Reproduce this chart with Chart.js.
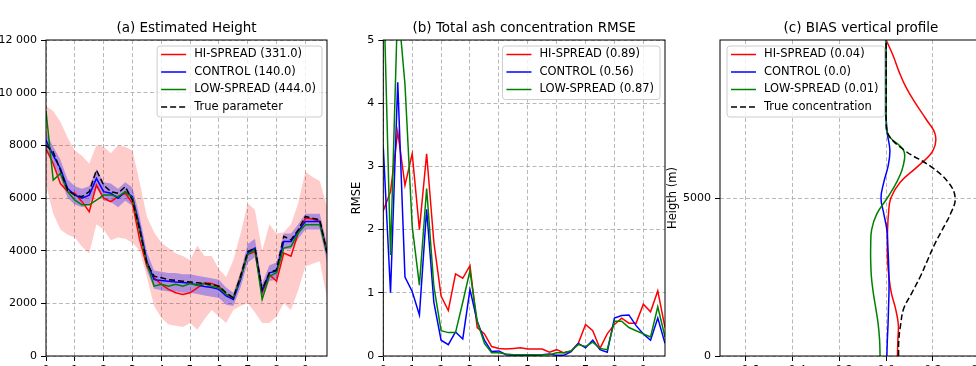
<html>
<head>
<style>
  html, body { margin: 0; padding: 0; width: 976px; height: 366px; overflow: hidden; background: #fff; }
  canvas { position: absolute; top: 0; }
</style>
</head>
<body>
<canvas id="height_chart" width="340" height="380" style="left: 0px;"></canvas>
<canvas id="rmse_chart" width="340" height="380" style="left: 335px;"></canvas>
<canvas id="bias_chart" width="346" height="380" style="left: 666px;"></canvas>
<script src="https://cdn.jsdelivr.net/npm/chart.js"></script>

<script>
    // time axis shared by panels (a) and (b)
    const hours = [0, 0.25, 0.5, 0.75, 1, 1.25, 1.5, 1.75, 2, 2.25, 2.5, 2.75, 3, 3.25, 3.5, 3.75,
        4, 4.25, 4.5, 4.75, 5, 5.25, 5.5, 5.75, 6, 6.25, 6.5, 6.75, 7, 7.25, 7.5, 7.75,
        8, 8.25, 8.5, 8.75, 9, 9.25, 9.5, 9.75];
    const hourTicks = [0, 1, 2, 3, 4, 5, 6, 7, 8, 9];

    // (a) estimated height
    const trueHeight = [8000, 7750, 7060, 6300, 6110, 6050, 6240, 7060, 6490, 6240, 6180, 6430, 5920, 4790, 3530, 3030,
        2970, 2900, 2870, 2840, 2810, 2780, 2750, 2720, 2650, 2400, 2210, 3030, 3970, 4100, 2530, 3160,
        3280, 4540, 4410, 4790, 5300, 5230, 5170, 3910];
    const ctrlHeight = [8190, 7620, 7120, 6360, 6110, 5990, 6110, 6740, 6240, 6180, 5990, 6240, 6050, 4920, 3600, 2900,
        2870, 2840, 2810, 2790, 2760, 2700, 2640, 2600, 2530, 2280, 2150, 2900, 3910, 4100, 2470, 3160,
        3220, 4350, 4350, 4730, 5110, 5110, 5110, 3910];
    const hiHeight = [7870, 7300, 6550, 6240, 6180, 5860, 5480, 6490, 5990, 5860, 6050, 6180, 5800, 4410, 3400, 2970,
        2720, 2530, 2400, 2340, 2400, 2590, 2780, 2750, 2650, 2340, 2150, 3030, 3850, 3970, 2400, 3090,
        2840, 3910, 3790, 4670, 5230, 5200, 5110, 3970];
    const lowHeight = [9300, 6680, 6930, 6240, 5920, 5740, 5740, 5920, 6110, 6110, 6050, 6240, 5990, 4790, 3530, 2650,
        2720, 2650, 2720, 2650, 2750, 2680, 2750, 2650, 2590, 2340, 2210, 2970, 3850, 4040, 2150, 3030,
        3160, 4100, 4160, 4670, 4980, 4980, 4980, 3910];
    const hiSpreadTop = [9500, 9300, 8900, 8300, 7800, 7600, 7300, 8000, 7950, 7700, 8000, 7950, 7800, 6600, 5300, 4700,
        4300, 4100, 3900, 3800, 3650, 4200, 3800, 3800, 3300, 3000, 3650, 4650, 5800, 5550, 4000, 5000,
        4650, 4700, 5000, 5800, 7000, 6800, 6650, 5650];
    const hiSpreadBottom = [6500, 5400, 4800, 4600, 4500, 4150, 3900, 5000, 4800, 4400, 4500, 4450, 4300, 4000, 3000, 1900,
        1450, 1200, 1150, 1100, 1250, 1000, 1400, 1750, 1500, 1250, 1750, 1900, 2000, 1650, 1250, 1250,
        1500, 2000, 1750, 2500, 3400, 3500, 3600, 2200];
    const ctrlSpreadTop = [8500, 7950, 7450, 6700, 6450, 6350, 6450, 7100, 6600, 6550, 6350, 6600, 6400, 5300, 3950, 3250,
        3200, 3150, 3150, 3100, 3100, 3050, 3000, 2950, 2900, 2600, 2400, 3200, 4250, 4450, 2750, 3450,
        3550, 4650, 4650, 5000, 5400, 5400, 5400, 4250];
    const ctrlSpreadBottom = [7800, 7250, 6750, 6000, 5750, 5650, 5750, 6400, 5900, 5850, 5650, 5900, 5700, 4550, 3250, 2550,
        2500, 2450, 2450, 2400, 2400, 2350, 2300, 2250, 2200, 1950, 1900, 2600, 3550, 3750, 2150, 2850,
        2900, 4050, 4050, 4450, 4800, 4800, 4800, 3550];
    const heightTicks = [0, 2000, 4000, 6000, 8000, 10000, 12000];
    const heightTickLabels = ["0", "2000", "4000", "6000", "8000", "10 000", "12 000"];

    // (b) total ash concentration RMSE
    const hiRmse = [2.3, 2.6, 3.55, 2.7, 3.2, 2.0, 3.2, 1.8, 0.95, 0.72, 1.3, 1.23, 1.43, 0.45, 0.35, 0.15,
        0.12, 0.11, 0.12, 0.13, 0.11, 0.11, 0.11, 0.06, 0.1, 0.05, 0.08, 0.2, 0.5, 0.4, 0.12, 0.35,
        0.5, 0.6, 0.52, 0.52, 0.82, 0.7, 1.03, 0.45];
    const ctrlRmse = [3.3, 1.0, 4.33, 1.25, 1.02, 0.65, 2.32, 0.85, 0.25, 0.18, 0.38, 0.27, 1.05, 0.55, 0.25, 0.07,
        0.08, 0.02, 0.01, 0.01, 0.01, 0.01, 0.02, 0.03, 0.01, 0.01, 0.07, 0.2, 0.13, 0.25, 0.1, 0.06,
        0.6, 0.64, 0.65, 0.48, 0.35, 0.25, 0.6, 0.2];
    const lowRmse = [6.0, 1.6, 5.6, 4.3, 2.05, 1.12, 2.65, 1.1, 0.4, 0.37, 0.37, 0.85, 1.35, 0.55, 0.2, 0.05,
        0.05, 0.03, 0.02, 0.02, 0.02, 0.02, 0.02, 0.02, 0.05, 0.05, 0.08, 0.18, 0.15, 0.22, 0.12, 0.1,
        0.55, 0.55, 0.45, 0.4, 0.35, 0.3, 0.78, 0.3];
    const rmseTicks = [0, 1, 2, 3, 4, 5];

    // (c) BIAS vertical profile
    const levels = [0, 500, 1000, 1500, 2000, 2500, 3000, 3500, 4000, 4500, 5000,
        5500, 6000, 6500, 7000, 7500, 8000, 8500, 9000, 9500, 10000];
    const trueBias = [0.053, 0.054, 0.062, 0.075, 0.11, 0.145, 0.175, 0.205, 0.24, 0.275, 0.295,
        0.265, 0.19, 0.08, 0.01, 0, 0, 0, 0, 0, 0];
    const hiBias = [0.048, 0.05, 0.052, 0.04, 0.022, 0.012, 0.006, 0.005, 0.006, 0.01, 0.02,
        0.06, 0.135, 0.2, 0.21, 0.17, 0.125, 0.085, 0.055, 0.03, 0];
    const ctrlBias = [0.003, 0.005, 0.008, 0.01, 0.012, 0.012, 0.01, 0.007, 0.003, -0.01, -0.022,
        -0.01, 0.008, 0.016, 0.006, 0, 0, 0, 0, 0, 0];
    const lowBias = [-0.026, -0.028, -0.034, -0.044, -0.055, -0.063, -0.066, -0.066, -0.062, -0.04, 0.005,
        0.045, 0.072, 0.075, 0.008, 0, 0, 0, 0, 0, 0];
    const biasTicks = [-0.6, -0.4, -0.2, 0, 0.2, 0.4];
    const biasTickLabels = ["\u22120.6", "\u22120.4", "\u22120.2", "0.0", "0.2", "0.4"];
    const levelTicks = [0, 5000];

    Chart.defaults.font.family = "'DejaVu Sans'";
    Chart.defaults.font.size = 11;
    Chart.defaults.color = "#000";

    // matplotlib style box around the plot area
    const frame = {
        id: "frame",
        afterDatasetsDraw(chart) {
            const { ctx, chartArea: a } = chart;
            ctx.save();
            ctx.strokeStyle = "#000";
            ctx.lineWidth = 1;
            ctx.strokeRect(a.left, a.top, a.right - a.left, a.bottom - a.top);
            ctx.restore();
        }
    };

    // legend drawn inside the plot, like the reference
    const boxLegend = {
        id: "boxLegend",
        afterDraw(chart, args, opts) {
            const { ctx, chartArea: a } = chart;
            const items = chart.data.datasets.filter(d => d.label).reverse();
            ctx.save();
            ctx.font = "11.5px 'DejaVu Sans'";
            const textW = Math.max(...items.map(d => ctx.measureText(d.label).width));
            const w = 37 + textW + 6;
            const h = 18.5 + (items.length - 1) * 17.5;
            const x = opts.corner === "left" ? a.left + 7 : a.right - 5 - w;
            const y = a.top + 6;
            ctx.beginPath();
            ctx.roundRect(x, y, w, h, 3);
            ctx.fillStyle = "rgba(255, 255, 255, 0.8)";
            ctx.fill();
            ctx.strokeStyle = "#cccccc";
            ctx.lineWidth = 1;
            ctx.stroke();
            items.forEach((d, k) => {
                const cy = y + 8.5 + k * 17.5;
                ctx.beginPath();
                ctx.setLineDash(d.borderDash || []);
                ctx.strokeStyle = d.borderColor;
                ctx.lineWidth = d.borderWidth;
                ctx.moveTo(x + 4, cy);
                ctx.lineTo(x + 29, cy);
                ctx.stroke();
                ctx.setLineDash([]);
                ctx.fillStyle = "#000";
                ctx.textBaseline = "middle";
                ctx.fillText(d.label, x + 37, cy);
            });
            ctx.restore();
        }
    };

    function line(label, data, color, dash) {
        return {
            label: label,
            data: data,
            borderColor: color,
            borderWidth: 1.5,
            borderDash: dash || [],
            pointRadius: 0,
            fill: false,
            tension: 0
        };
    }

    function band(data, color, fillTo) {
        return {
            data: data,
            borderColor: "rgba(0, 0, 0, 0)",
            borderWidth: 0,
            pointRadius: 0,
            backgroundColor: color,
            fill: fillTo
        };
    }

    function axis(min, max, tickValues, tickLabels, size, horizontal, title) {
        return {
            type: "linear",
            min: min,
            max: max,
            afterBuildTicks: (scale) => { scale.ticks = tickValues.map(v => ({ value: v })); },
            afterFit: (scale) => { if (horizontal) scale.height = size; else scale.width = size; },
            ticks: {
                autoSkip: false,
                maxRotation: 0,
                padding: horizontal ? 3 : 4,
                font: { size: 11 },
                callback: (v, i) => tickLabels ? tickLabels[i] : String(v)
            },
            grid: { color: "#b0b0b0", lineWidth: 0.9, tickColor: "#000", tickLength: 5, tickWidth: 1 },
            border: { display: false, dash: [4, 2.5] },
            title: title || { display: false }
        };
    }

    function options(titleText, xScale, yScale, right, corner) {
        return {
            responsive: false,
            animation: false,
            layout: { padding: { left: 0, right: right, top: 0, bottom: 0 } },
            plugins: {
                legend: { display: false },
                tooltip: { enabled: false },
                title: {
                    display: true,
                    text: titleText,
                    fullSize: false,
                    color: "#000",
                    font: { size: 13.5, weight: "normal" },
                    padding: { top: 20, bottom: 3.8 }
                },
                boxLegend: { corner: corner }
            },
            scales: { x: xScale, y: yScale }
        };
    }

    document.addEventListener("DOMContentLoaded", () => {
        const heightCtx = document.getElementById("height_chart").getContext("2d");
        const rmseCtx = document.getElementById("rmse_chart").getContext("2d");
        const biasCtx = document.getElementById("bias_chart").getContext("2d");

        new Chart(heightCtx, {
            type: "line",
            data: {
                labels: hours,
                datasets: [
                    line("True parameter", trueHeight, "#000000", [6, 3]),
                    line("LOW-SPREAD (444.0)", lowHeight, "#008000"),
                    line("CONTROL (140.0)", ctrlHeight, "#0000ff"),
                    line("HI-SPREAD (331.0)", hiHeight, "#ff0000"),
                    band(ctrlSpreadTop, "rgba(0, 0, 255, 0.3)", "+1"),
                    band(ctrlSpreadBottom, "rgba(0, 0, 0, 0)", false),
                    band(hiSpreadTop, "rgba(255, 0, 0, 0.2)", "+1"),
                    band(hiSpreadBottom, "rgba(0, 0, 0, 0)", false)
                ]
            },
            options: options("(a) Estimated Height",
                axis(0, 9.75, hourTicks, null, 24, true),
                axis(0, 12000, heightTicks, heightTickLabels, 46, false),
                13, "right"),
            plugins: [frame, boxLegend]
        });

        new Chart(rmseCtx, {
            type: "line",
            data: {
                labels: hours,
                datasets: [
                    line("LOW-SPREAD (0.87)", lowRmse, "#008000"),
                    line("CONTROL (0.56)", ctrlRmse, "#0000ff"),
                    line("HI-SPREAD (0.89)", hiRmse, "#ff0000")
                ]
            },
            options: options("(b) Total ash concentration RMSE",
                axis(0, 9.75, hourTicks, null, 24, true),
                axis(0, 5, rmseTicks, null, 48.3, false,
                    { display: true, text: "RMSE", font: { size: 11.5 }, padding: { top: 15, bottom: 0 } }),
                10, "right"),
            plugins: [frame, boxLegend]
        });

        const profile = (values) => levels.map((h, k) => ({ x: values[k], y: h }));
        const biasOptions = options("(c) BIAS vertical profile",
            axis(-0.71, 0.495, biasTicks, biasTickLabels, 24, true),
            axis(0, 10000, levelTicks, null, 54, false,
                { display: true, text: "Heigth (m)", font: { size: 11.5 }, padding: { top: 0, bottom: 0 } }),
            10, "left");
        biasOptions.indexAxis = "y";

        const biasSets = [
            line("True concentration", profile(trueBias), "#000000", [6, 3]),
            line("LOW-SPREAD (0.01)", profile(lowBias), "#008000"),
            line("CONTROL (0.0)", profile(ctrlBias), "#0000ff"),
            line("HI-SPREAD (0.04)", profile(hiBias), "#ff0000")
        ];
        biasSets.forEach(d => { d.tension = 0.4; });

        new Chart(biasCtx, {
            type: "line",
            data: { datasets: biasSets },
            options: biasOptions,
            plugins: [frame, boxLegend]
        });
    });
</script>
</body>
</html>
